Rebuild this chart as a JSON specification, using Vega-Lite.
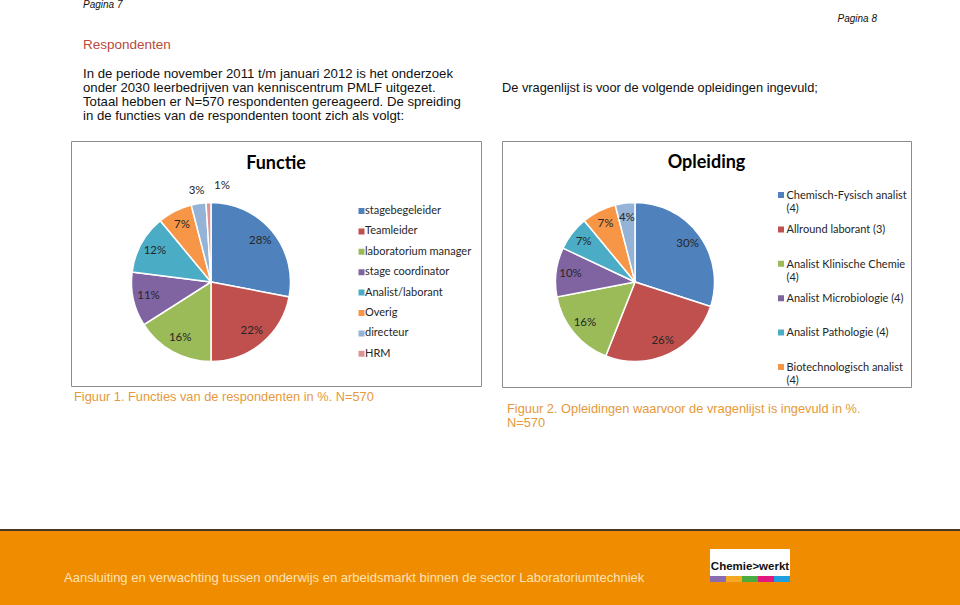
{
  "$schema": "https://vega.github.io/schema/vega-lite/v6.json",
  "padding": 0,
  "background": "white",
  "spacing": 0,
  "resolve": {"scale": {"color": "independent", "shape": "independent"}, "legend": {"color": "independent", "shape": "independent"}},
  "config": {
    "view": {"stroke": null},
    "font": "Liberation Sans",
    "title": {"font": "Liberation Sans", "subtitleFont": "Liberation Sans", "fontWeight": "normal", "color": "#111111", "anchor": "start", "frame": "group", "offset": 0},
    "legend": {"padding": 0}
  },
  "vconcat": [
    {
      "spacing": 0,
      "resolve": {"scale": {"color": "independent", "shape": "independent"}, "legend": {"color": "independent", "shape": "independent"}},
      "hconcat": [
        {"width": 70, "height": 1, "data": {"values": [{}]}, "mark": {"type": "point", "size": 1, "opacity": 0, "filled": true, "strokeWidth": 0}, "encoding": {}},
        {
          "spacing": 0,
          "resolve": {"scale": {"color": "independent", "shape": "independent"}, "legend": {"color": "independent", "shape": "independent"}},
          "vconcat": [
            {"width": 410, "height": 24, "title": {"text": "Pagina 7", "dx": 12, "fontSize": 10, "fontStyle": "italic"}, "data": {"values": [{}]}, "mark": {"type": "point", "size": 1, "opacity": 0, "filled": true, "strokeWidth": 0}, "encoding": {}},
            {"width": 410, "height": 14, "title": {"text": "Respondenten", "dx": 12, "fontSize": 13.5, "color": "#b84a3c", "subtitle": ["In de periode november 2011 t/m januari 2012 is het onderzoek", "onder 2030 leerbedrijven van kenniscentrum PMLF uitgezet.", "Totaal hebben er N=570 respondenten gereageerd. De spreiding", "in de functies van de respondenten toont zich als volgt:"], "subtitleFontSize": 13.2, "subtitleColor": "#111111", "subtitleLineHeight": 14, "subtitlePadding": 16}, "data": {"values": [{}]}, "mark": {"type": "point", "size": 1, "opacity": 0, "filled": true, "strokeWidth": 0}, "encoding": {}},
            {
              "width": 410, "height": 245,
              "view": {"stroke": "#8c8c8c", "strokeWidth": 1},
              "title": {"text": "Figuur 1. Functies van de respondenten in %. N=570", "orient": "bottom", "anchor": "start", "dx": 3, "offset": 5, "fontSize": 12.8, "color": "#e6993a"},
              "layer": [
                {
                  "data": {"values": [
                    {"functie": "stagebegeleider", "aandeel": 0.28},
                    {"functie": "Teamleider", "aandeel": 0.22},
                    {"functie": "laboratorium manager", "aandeel": 0.16},
                    {"functie": "stage coordinator", "aandeel": 0.11},
                    {"functie": "Analist/laborant", "aandeel": 0.12},
                    {"functie": "Overig", "aandeel": 0.07},
                    {"functie": "directeur", "aandeel": 0.03},
                    {"functie": "HRM", "aandeel": 0.01}
                  ]},
                  "transform": [{"window": [{"op": "row_number", "as": "volgorde"}]}],
                  "layer": [
                    {
                      "mark": {"type": "arc", "outerRadius": 79.5, "stroke": "#ffffff", "strokeWidth": 1.5, "xOffset": -65, "yOffset": 18.5},
                      "encoding": {
                        "theta": {"field": "aandeel", "type": "quantitative", "stack": true},
                        "order": {"field": "volgorde", "type": "quantitative"},
                        "color": {"field": "functie", "type": "nominal",
                          "scale": {"domain": ["stagebegeleider", "Teamleider", "laboratorium manager", "stage coordinator", "Analist/laborant", "Overig", "directeur", "HRM"],
                                    "range": ["#4f81bd", "#c0504d", "#9bbb59", "#8064a2", "#4bacc6", "#f79646", "#95b3d7", "#d99694"]},
                          "legend": {"orient": "none", "legendX": 285, "legendY": 60, "title": null, "symbolType": "square", "symbolSize": 36, "symbolStrokeWidth": 0, "labelFont": "Lato", "labelFontSize": 11, "labelColor": "#262626", "clipHeight": 20, "rowPadding": 0.4, "labelOffset": -2, "padding": 0}}
                      }
                    },
                    {
                      "mark": {"type": "text", "font": "Lato", "fontSize": 11.5, "xOffset": -65, "yOffset": 18.5, "dx": {"expr": "datum.aandeel < 0.02 ? 14 : 0"}},
                      "encoding": {
                        "theta": {"field": "aandeel", "type": "quantitative", "stack": true},
                        "order": {"field": "volgorde", "type": "quantitative"},
                        "detail": {"field": "functie", "type": "nominal"},
                        "radius": {"value": {"expr": "datum.aandeel < 0.05 ? (datum.aandeel < 0.02 ? 96 : 92) : 64"}},
                        "text": {"field": "aandeel", "type": "quantitative", "format": ".0%"},
                        "color": {"value": "#262626"}
                      }
                    }
                  ]
                },
                {
                  "data": {"values": [{"titel": "Functie"}]},
                  "mark": {"type": "text", "font": "Lato", "fontSize": 18, "fontWeight": "bold", "dy": -100, "color": "#000000"},
                  "encoding": {"text": {"field": "titel", "type": "nominal"}}
                }
              ]
            },
            {"width": 410, "height": 124, "data": {"values": [{}]}, "mark": {"type": "point", "size": 1, "opacity": 0, "filled": true, "strokeWidth": 0}, "encoding": {}}
          ]
        },
        {"width": 19, "height": 1, "data": {"values": [{}]}, "mark": {"type": "point", "size": 1, "opacity": 0, "filled": true, "strokeWidth": 0}, "encoding": {}},
        {
          "spacing": 0,
          "resolve": {"scale": {"color": "independent", "shape": "independent"}, "legend": {"color": "independent", "shape": "independent"}},
          "vconcat": [
            {"width": 409, "height": 68, "title": {"text": "Pagina 8", "anchor": "end", "dx": -34, "dy": 14, "fontSize": 10, "fontStyle": "italic"}, "data": {"values": [{}]}, "mark": {"type": "point", "size": 1, "opacity": 0, "filled": true, "strokeWidth": 0}, "encoding": {}},
            {"width": 409, "height": 41, "title": {"text": "De vragenlijst is voor de volgende opleidingen ingevuld;", "fontSize": 12.8}, "data": {"values": [{}]}, "mark": {"type": "point", "size": 1, "opacity": 0, "filled": true, "strokeWidth": 0}, "encoding": {}},
            {
              "width": 409, "height": 246,
              "view": {"stroke": "#8c8c8c", "strokeWidth": 1},
              "title": {"text": ["Figuur 2. Opleidingen waarvoor de vragenlijst is ingevuld in %.", "N=570"], "lineHeight": 14, "orient": "bottom", "anchor": "start", "dx": 5, "offset": 15, "fontSize": 12.8, "color": "#e6993a"},
              "layer": [
                {
                  "data": {"values": [
                    {"opleiding": "Chemisch-Fysisch analist (4)", "aandeel": 0.30},
                    {"opleiding": "Allround laborant (3)", "aandeel": 0.26},
                    {"opleiding": "Analist Klinische Chemie (4)", "aandeel": 0.16},
                    {"opleiding": "Analist Microbiologie (4)", "aandeel": 0.10},
                    {"opleiding": "Analist Pathologie (4)", "aandeel": 0.07},
                    {"opleiding": "Biotechnologisch analist (4)", "aandeel": 0.07},
                    {"opleiding": "Overige opleiding", "aandeel": 0.04}
                  ]},
                  "transform": [{"window": [{"op": "row_number", "as": "volgorde"}]}],
                  "layer": [
                    {
                      "mark": {"type": "arc", "outerRadius": 79.5, "stroke": "#ffffff", "strokeWidth": 1.5, "xOffset": -71.5, "yOffset": 18},
                      "encoding": {
                        "theta": {"field": "aandeel", "type": "quantitative", "stack": true},
                        "order": {"field": "volgorde", "type": "quantitative"},
                        "color": {"field": "opleiding", "type": "nominal",
                          "scale": {"domain": ["Chemisch-Fysisch analist (4)", "Allround laborant (3)", "Analist Klinische Chemie (4)", "Analist Microbiologie (4)", "Analist Pathologie (4)", "Biotechnologisch analist (4)", "Overige opleiding"],
                                    "range": ["#4f81bd", "#c0504d", "#9bbb59", "#8064a2", "#4bacc6", "#f79646", "#95b3d7"]},
                          "legend": {"orient": "none", "legendX": 273.5, "legendY": 40.7, "title": null,
                            "values": ["Chemisch-Fysisch analist (4)", "Allround laborant (3)", "Analist Klinische Chemie (4)", "Analist Microbiologie (4)", "Analist Pathologie (4)", "Biotechnologisch analist (4)"],
                            "symbolType": "M-1,-2.23H1V-0.23H-1Z", "symbolSize": 36, "symbolStrokeWidth": 0, "labelFont": "Lato", "labelFontSize": 11, "labelColor": "#262626", "labelBaseline": "alphabetic", "clipHeight": 34, "rowPadding": 0.4, "labelOffset": 0, "padding": 0,
                            "labelExpr": "length(datum.label) > 26 ? [substring(datum.label, 0, length(datum.label) - 4), substring(datum.label, length(datum.label) - 3)] : datum.label"}}
                      }
                    },
                    {
                      "mark": {"type": "text", "font": "Lato", "fontSize": 11.5, "radius": 65, "xOffset": -71.5, "yOffset": 18},
                      "encoding": {
                        "theta": {"field": "aandeel", "type": "quantitative", "stack": true},
                        "order": {"field": "volgorde", "type": "quantitative"},
                        "detail": {"field": "opleiding", "type": "nominal"},
                        "text": {"field": "aandeel", "type": "quantitative", "format": ".0%"},
                        "color": {"value": "#262626"}
                      }
                    }
                  ]
                },
                {
                  "data": {"values": [{"titel": "Opleiding"}]},
                  "mark": {"type": "text", "font": "Lato", "fontSize": 18, "fontWeight": "bold", "dy": -101, "color": "#000000"},
                  "encoding": {"text": {"field": "titel", "type": "nominal"}}
                }
              ]
            }
          ]
        }
      ]
    },
    {"width": 960, "height": 2, "view": {"fill": "#4a3826", "stroke": null}, "data": {"values": [{}]}, "mark": {"type": "point", "size": 1, "opacity": 0, "filled": true, "strokeWidth": 0}, "encoding": {}},
    {
      "width": 960, "height": 74,
      "view": {"fill": "#f08c00", "stroke": null},
      "resolve": {"scale": {"color": "independent", "shape": "independent"}},
      "layer": [
        {
          "data": {"values": [{"tekst": "Aansluiting en verwachting tussen onderwijs en arbeidsmarkt binnen de sector Laboratoriumtechniek"}]},
          "mark": {"type": "text", "font": "Liberation Sans", "fontSize": 13, "align": "left", "baseline": "middle", "dx": -416, "dy": 10, "color": "#fde3b5"},
          "encoding": {"text": {"field": "tekst", "type": "nominal"}}
        },
        {
          "data": {"values": [{"logo": "Chemie>werkt"}]},
          "mark": {"type": "point", "shape": "M-1,-0.3375H1V0.3375H-1Z", "size": 6400, "filled": true, "opacity": 1, "color": "#ffffff", "strokeWidth": 0, "xOffset": 270, "yOffset": -5.5},
          "encoding": {}
        },
        {
          "data": {"values": [{"logo": "Chemie>werkt"}]},
          "mark": {"type": "text", "font": "Liberation Sans", "fontSize": 11.5, "fontWeight": "bold", "dx": 270, "dy": -1.5, "color": "#111111"},
          "encoding": {"text": {"field": "logo", "type": "nominal"}}
        },
        {
          "data": {"values": [{"blok": "paars"}, {"blok": "oranje"}, {"blok": "groen"}, {"blok": "magenta"}, {"blok": "blauw"}]},
          "mark": {"type": "point", "size": 6400, "filled": true, "opacity": 1, "strokeWidth": 0, "xOffset": 270, "yOffset": -5.5},
          "encoding": {
            "shape": {"field": "blok", "type": "nominal", "legend": null,
              "scale": {"domain": ["paars", "oranje", "groen", "magenta", "blauw"],
                        "range": ["M-1,0.3375H-0.6V0.4875H-1Z", "M-0.6,0.3375H-0.2V0.4875H-0.6Z", "M-0.2,0.3375H0.2V0.4875H-0.2Z", "M0.2,0.3375H0.6V0.4875H0.2Z", "M0.6,0.3375H1V0.4875H0.6Z"]}},
            "color": {"field": "blok", "type": "nominal", "legend": null,
              "scale": {"domain": ["paars", "oranje", "groen", "magenta", "blauw"],
                        "range": ["#8a6db1", "#f7a823", "#4cab3e", "#e2187f", "#1d9fe0"]}}
          }
        }
      ]
    }
  ]
}
